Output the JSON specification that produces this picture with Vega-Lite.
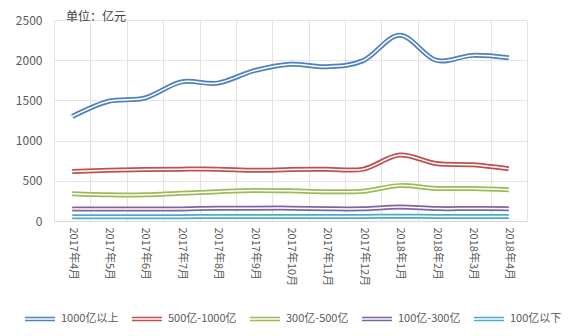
{
  "$schema": "https://vega.github.io/schema/vega-lite/v6.json",
  "width": 473,
  "height": 201,
  "autosize": {"type": "none"},
  "padding": {"left": 54, "top": 20, "right": 45, "bottom": 115},
  "background": "white",
  "title": {"text": "单位：亿元", "anchor": "start", "frame": "group", "dx": 12, "offset": -10, "fontSize": 12, "fontWeight": "normal", "color": "#404040", "font": "Noto Sans CJK SC"},
  "config": {
    "view": {"stroke": null},
    "font": "Noto Sans CJK SC",
    "axis": {"labelColor": "#595959", "labelFont": "Noto Sans CJK SC", "gridColor": "#e3e3e3", "gridWidth": 1, "ticks": false, "title": null}
  },
  "data": {
    "values": [
      {"month": "2017年4月", "series": "1000亿以上", "value": 1300},
      {"month": "2017年5月", "series": "1000亿以上", "value": 1490},
      {"month": "2017年6月", "series": "1000亿以上", "value": 1530},
      {"month": "2017年7月", "series": "1000亿以上", "value": 1730},
      {"month": "2017年8月", "series": "1000亿以上", "value": 1715},
      {"month": "2017年9月", "series": "1000亿以上", "value": 1870},
      {"month": "2017年10月", "series": "1000亿以上", "value": 1950},
      {"month": "2017年11月", "series": "1000亿以上", "value": 1920},
      {"month": "2017年12月", "series": "1000亿以上", "value": 1995},
      {"month": "2018年1月", "series": "1000亿以上", "value": 2310},
      {"month": "2018年2月", "series": "1000亿以上", "value": 2000},
      {"month": "2018年3月", "series": "1000亿以上", "value": 2060},
      {"month": "2018年4月", "series": "1000亿以上", "value": 2030},
      {"month": "2017年4月", "series": "500亿-1000亿", "value": 615},
      {"month": "2017年5月", "series": "500亿-1000亿", "value": 630},
      {"month": "2017年6月", "series": "500亿-1000亿", "value": 640},
      {"month": "2017年7月", "series": "500亿-1000亿", "value": 645},
      {"month": "2017年8月", "series": "500亿-1000亿", "value": 645},
      {"month": "2017年9月", "series": "500亿-1000亿", "value": 630},
      {"month": "2017年10月", "series": "500亿-1000亿", "value": 640},
      {"month": "2017年11月", "series": "500亿-1000亿", "value": 645},
      {"month": "2017年12月", "series": "500亿-1000亿", "value": 645},
      {"month": "2018年1月", "series": "500亿-1000亿", "value": 820},
      {"month": "2018年2月", "series": "500亿-1000亿", "value": 715},
      {"month": "2018年3月", "series": "500亿-1000亿", "value": 700},
      {"month": "2018年4月", "series": "500亿-1000亿", "value": 650},
      {"month": "2017年4月", "series": "300亿-500亿", "value": 340},
      {"month": "2017年5月", "series": "300亿-500亿", "value": 325},
      {"month": "2017年6月", "series": "300亿-500亿", "value": 325},
      {"month": "2017年7月", "series": "300亿-500亿", "value": 345},
      {"month": "2017年8月", "series": "300亿-500亿", "value": 365},
      {"month": "2017年9月", "series": "300亿-500亿", "value": 380},
      {"month": "2017年10月", "series": "300亿-500亿", "value": 375},
      {"month": "2017年11月", "series": "300亿-500亿", "value": 365},
      {"month": "2017年12月", "series": "300亿-500亿", "value": 370},
      {"month": "2018年1月", "series": "300亿-500亿", "value": 440},
      {"month": "2018年2月", "series": "300亿-500亿", "value": 405},
      {"month": "2018年3月", "series": "300亿-500亿", "value": 405},
      {"month": "2018年4月", "series": "300亿-500亿", "value": 390},
      {"month": "2017年4月", "series": "100亿-300亿", "value": 150},
      {"month": "2017年5月", "series": "100亿-300亿", "value": 148},
      {"month": "2017年6月", "series": "100亿-300亿", "value": 148},
      {"month": "2017年7月", "series": "100亿-300亿", "value": 150},
      {"month": "2017年8月", "series": "100亿-300亿", "value": 158},
      {"month": "2017年9月", "series": "100亿-300亿", "value": 160},
      {"month": "2017年10月", "series": "100亿-300亿", "value": 160},
      {"month": "2017年11月", "series": "100亿-300亿", "value": 152},
      {"month": "2017年12月", "series": "100亿-300亿", "value": 152},
      {"month": "2018年1月", "series": "100亿-300亿", "value": 175},
      {"month": "2018年2月", "series": "100亿-300亿", "value": 155},
      {"month": "2018年3月", "series": "100亿-300亿", "value": 155},
      {"month": "2018年4月", "series": "100亿-300亿", "value": 153},
      {"month": "2017年4月", "series": "100亿以下", "value": 52},
      {"month": "2017年5月", "series": "100亿以下", "value": 52},
      {"month": "2017年6月", "series": "100亿以下", "value": 53},
      {"month": "2017年7月", "series": "100亿以下", "value": 54},
      {"month": "2017年8月", "series": "100亿以下", "value": 55},
      {"month": "2017年9月", "series": "100亿以下", "value": 56},
      {"month": "2017年10月", "series": "100亿以下", "value": 56},
      {"month": "2017年11月", "series": "100亿以下", "value": 55},
      {"month": "2017年12月", "series": "100亿以下", "value": 56},
      {"month": "2018年1月", "series": "100亿以下", "value": 60},
      {"month": "2018年2月", "series": "100亿以下", "value": 57},
      {"month": "2018年3月", "series": "100亿以下", "value": 57},
      {"month": "2018年4月", "series": "100亿以下", "value": 57}
    ]
  },
  "encoding": {
    "x": {
      "field": "month", "type": "ordinal", "sort": null, "bandPosition": 0.5,
      "scale": {"type": "band", "paddingInner": 0, "paddingOuter": 0},
      "axis": {"labelAngle": 90, "labelFontSize": 11, "labelPadding": 6, "tickBand": "extent", "grid": true, "domainColor": "#d9d9d9", "labelColor": "#595959"}
    },
    "y": {
      "field": "value", "type": "quantitative",
      "scale": {"domain": [0, 2500], "nice": false},
      "axis": {"values": [0, 500, 1000, 1500, 2000, 2500], "format": "d", "domain": false, "labelFontSize": 12, "labelPadding": 12, "grid": true}
    }
  },
  "layer": [
    {
      "mark": {"type": "line", "strokeWidth": 5, "interpolate": "cardinal"},
      "encoding": {
        "color": {
          "field": "series", "type": "nominal",
          "scale": {"domain": ["1000亿以上", "500亿-1000亿", "300亿-500亿", "100亿-300亿", "100亿以下"], "range": ["#4F81BD", "#C0504D", "#9BBB59", "#8064A2", "#4BACC6"]},
          "legend": {
            "title": null, "orient": "none", "direction": "horizontal", "legendX": -30, "legendY": 283,
            "symbolType": "M-1,-0.1H1M-1,0.1H1", "symbolSize": 900, "symbolStrokeWidth": 1.5,
            "labelFontSize": 11, "labelColor": "#595959", "labelOffset": 5, "columnPadding": 10, "padding": 0, "labelLimit": 200
          }
        }
      }
    },
    {
      "mark": {"type": "line", "strokeWidth": 1.5, "color": "white", "interpolate": "cardinal"},
      "encoding": {"detail": {"field": "series", "type": "nominal"}}
    }
  ]
}
